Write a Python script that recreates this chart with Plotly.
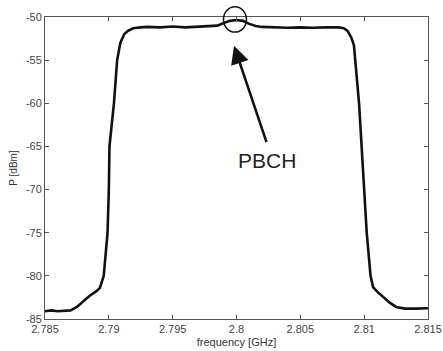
import plotly.graph_objects as go

freq = [2.7850, 2.7855, 2.7860, 2.7865, 2.7870, 2.7875, 2.7880, 2.7885, 2.7890, 2.7893,
        2.7896, 2.7899, 2.7900, 2.79005, 2.7904, 2.79065, 2.7909, 2.7912, 2.7915, 2.7919,
        2.7925, 2.7930, 2.7940, 2.7950, 2.7960, 2.7970, 2.7980, 2.7985, 2.7990, 2.7995,
        2.8000, 2.8005, 2.8010, 2.8015, 2.8020, 2.8030, 2.8040, 2.8050, 2.8060, 2.8070,
        2.8080, 2.8084, 2.8087, 2.8090, 2.8092, 2.8093, 2.8096, 2.8098, 2.8100, 2.8102,
        2.8105, 2.8107, 2.8110, 2.8115, 2.8120, 2.8125, 2.8132, 2.8140, 2.8150]
power = [-84.1, -84.0, -84.1, -84.05, -84.0, -83.6, -82.9, -82.3, -81.8, -81.4,
         -80.0, -75.0, -70.0, -65.0, -60.0, -55.0, -53.0, -52.0, -51.6, -51.3,
         -51.2, -51.15, -51.2, -51.1, -51.2, -51.15, -51.1, -51.0, -50.7, -50.45,
         -50.35, -50.45, -50.8, -51.05, -51.15, -51.2, -51.25, -51.2, -51.25, -51.2,
         -51.2, -51.3, -51.6, -52.4, -53.3, -55.0, -60.0, -65.0, -70.0, -75.0,
         -80.0, -81.3, -81.8, -82.5, -83.1, -83.6, -83.8, -83.8, -83.75]

x_ticks = [2.785, 2.79, 2.795, 2.8, 2.805, 2.81, 2.815]
x_tick_labels = ["2.785", "2.79", "2.795", "2.8", "2.805", "2.81", "2.815"]
y_ticks = [-85, -80, -75, -70, -65, -60, -55, -50]
y_tick_labels = ["-85", "-80", "-75", "-70", "-65", "-60", "-55", "-50"]

fig = go.Figure()
fig.add_trace(go.Scatter(x=freq, y=power, mode="lines",
                         line=dict(color="#111111", width=2.6),
                         showlegend=False, hoverinfo="skip"))

axis_common = dict(showline=True, linecolor="#555555", linewidth=1, mirror="ticks",
                   ticks="inside", ticklen=4, tickcolor="#555555", tickwidth=1,
                   showgrid=False, zeroline=False, automargin=False,
                   tickfont=dict(family="Arial, Liberation Sans", size=11, color="#444444"))

fig.update_xaxes(range=[2.785, 2.815], tickvals=x_ticks, ticktext=x_tick_labels,
                 title=dict(text="frequency [GHz]", standoff=4,
                            font=dict(family="Arial, Liberation Sans", size=11, color="#333333")),
                 **axis_common)
fig.update_yaxes(range=[-85, -50], tickvals=y_ticks, ticktext=y_tick_labels,
                 title=dict(text="P [dBm]", standoff=6,
                            font=dict(family="Arial, Liberation Sans", size=10, color="#333333")),
                 **axis_common)

# circle around the PBCH bump (paper coordinates so it is not clipped)
fig.add_shape(type="circle", xref="paper", yref="paper",
              x0=0.466, x1=0.526, y0=0.950, y1=1.034,
              line=dict(color="#111111", width=1.5))

# arrow
fig.add_annotation(xref="paper", yref="paper", x=0.4935, y=0.905,
                   ax=33, ay=98, text="", showarrow=True,
                   arrowhead=2, arrowsize=1.4, arrowwidth=2.6, arrowcolor="#111111")
# label
fig.add_annotation(xref="paper", yref="paper", x=(267 - 45) / 383, y=(319 - 160) / 302,
                   text="PBCH", showarrow=False,
                   font=dict(family="Arial, Liberation Sans", size=21, color="#222222"))

fig.update_layout(width=443, height=351, margin=dict(l=45, r=15, t=17, b=32),
                  paper_bgcolor="white", plot_bgcolor="white")

fig.write_html("out.html")
